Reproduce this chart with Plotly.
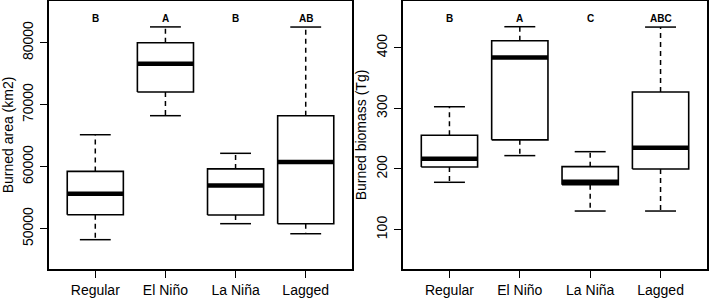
import plotly.graph_objects as go

categories = ["Regular", "El Niño", "La Niña", "Lagged"]

# Burned area (km2)
area_low = [48230, 68230, 50810, 49190]
area_q1 = [52260, 72060, 52210, 50810]
area_med = [55650, 76600, 56980, 60750]
area_q3 = [59240, 80000, 59650, 68230]
area_high = [65160, 82550, 62160, 82530]
area_letters = ["B", "A", "B", "AB"]

# Burned biomass (Tg)
bio_low = [178, 222, 130.6, 130.6]
bio_q1 = [203.3, 248, 174, 200]
bio_med = [217, 384, 179, 235]
bio_q3 = [255.5, 411.5, 203.8, 327]
bio_high = [302.6, 434.6, 228.5, 434]
bio_letters = ["B", "A", "C", "ABC"]

FONT = "Liberation Sans, Arial, sans-serif"
HW = 0.4    # half box width
SW = 0.22   # half staple width

fig = go.Figure()


def add_panel(xa, ya, low, q1, med, q3, high):
    for i in range(len(categories)):
        x = i + 1
        # whiskers (dashed)
        fig.add_trace(go.Scatter(x=[x, x, None, x, x], y=[q3[i], high[i], None, q1[i], low[i]],
                                 mode="lines", line=dict(color="black", width=1.5, dash="5px,4px"),
                                 xaxis=xa, yaxis=ya, hoverinfo="skip", showlegend=False))
        # staples
        fig.add_trace(go.Scatter(x=[x - SW, x + SW, None, x - SW, x + SW],
                                 y=[high[i], high[i], None, low[i], low[i]],
                                 mode="lines", line=dict(color="black", width=1.5),
                                 xaxis=xa, yaxis=ya, hoverinfo="skip", showlegend=False))
        # box
        fig.add_trace(go.Scatter(x=[x - HW, x + HW, x + HW, x - HW, x - HW],
                                 y=[q1[i], q1[i], q3[i], q3[i], q1[i]],
                                 mode="lines", fill="toself", fillcolor="white",
                                 line=dict(color="black", width=1.6),
                                 xaxis=xa, yaxis=ya, hoverinfo="skip", showlegend=False))
        # median
        fig.add_trace(go.Scatter(x=[x - HW, x + HW], y=[med[i], med[i]],
                                 mode="lines", line=dict(color="black", width=4.5),
                                 xaxis=xa, yaxis=ya, hoverinfo="skip", showlegend=False))


add_panel("x", "y", area_low, area_q1, area_med, area_q3, area_high)
add_panel("x2", "y2", bio_low, bio_q1, bio_med, bio_q3, bio_high)

for i, t in enumerate(area_letters):
    fig.add_annotation(x=i + 1, y=0.962, xref="x", yref="paper", text="<b>%s</b>" % t,
                       showarrow=False, font=dict(family=FONT, size=10, color="black"))
for i, t in enumerate(bio_letters):
    fig.add_annotation(x=i + 1, y=0.962, xref="x2", yref="paper", text="<b>%s</b>" % t,
                       showarrow=False, font=dict(family=FONT, size=10, color="black"))

axis_common = dict(showline=True, linecolor="black", linewidth=1.6, mirror=True,
                   showgrid=False, zeroline=False, ticks="outside", ticklen=7,
                   tickwidth=1.2, tickcolor="black", automargin=False,
                   tickfont=dict(family=FONT, size=14, color="black"))

fig.update_layout(
    template="none",
    width=709, height=298,
    margin=dict(l=49, r=2, t=1, b=29),
    paper_bgcolor="white", plot_bgcolor="white",
    showlegend=False,
    xaxis=dict(domain=[0, 0.4605], range=[0.34, 4.66], tickvals=[1, 2, 3, 4],
               ticktext=categories, anchor="y", **axis_common),
    xaxis2=dict(domain=[0.538, 1], range=[0.34, 4.66], tickvals=[1, 2, 3, 4],
                ticktext=categories, anchor="y2", **axis_common),
    yaxis=dict(range=[43500, 86730], tickvals=[50000, 60000, 70000, 80000],
               tickformat="d", tickangle=-90, anchor="x", ticklabelstandoff=2,
               title=dict(text="Burned area (km2)", standoff=12,
                          font=dict(family=FONT, size=14, color="black")),
               **axis_common),
    yaxis2=dict(range=[35, 477], tickvals=[100, 200, 300, 400],
                tickformat="d", tickangle=-90, anchor="x2", ticklabelstandoff=2,
                title=dict(text="Burned biomass (Tg)", standoff=4,
                           font=dict(family=FONT, size=14, color="black")),
                **axis_common),
)

fig.write_html("out.html", config={"displayModeBar": False},
               post_script="document.body.style.margin='0px';document.body.style.overflow='hidden';")
